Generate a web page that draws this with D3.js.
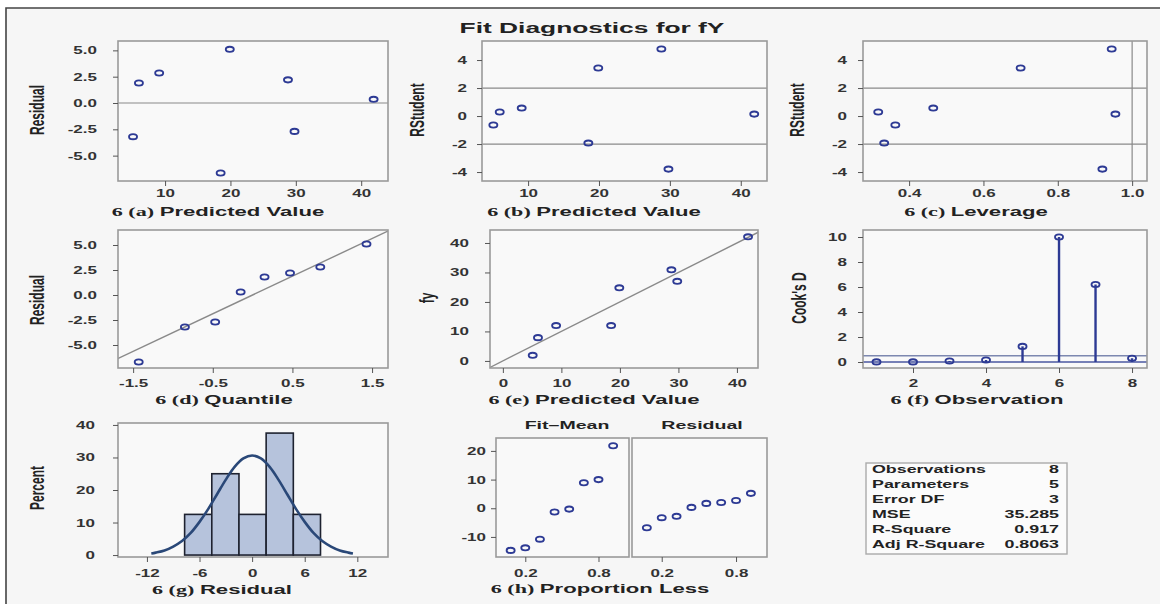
<!DOCTYPE html>
<html>
<head>
<meta charset="utf-8">
<script src="https://cdn.jsdelivr.net/npm/d3@7"></script>
<style>
body { margin: 0; background: #fff; }
svg text { font-family: Arial, "Liberation Sans", sans-serif; fill: #222; }
</style>
</head>
<body>
<svg id="chart" width="1160" height="604"></svg>
<script>
// values, observation order
var obs = [1, 2, 3, 4, 5, 6, 7, 8];
var predicted = [5.1, 6.0, 9.1, 18.5, 19.9, 28.8, 29.8, 41.9];
var residual = [-3.2, 1.9, 2.85, -6.65, 5.1, 2.2, -2.7, 0.35];
var fy = [1.9, 7.9, 12.0, 12.0, 24.8, 30.9, 27.0, 42.1];
var rstudent = [-0.64, 0.29, 0.57, -1.93, 3.43, 4.79, -3.79, 0.14];
var leverage = [0.363, 0.317, 0.465, 0.333, 0.70, 0.945, 0.92, 0.955];
var cooksD = [0.01, 0.01, 0.08, 0.16, 1.25, 10.0, 6.2, 0.3];

// QQ plot
var quantile = [-1.43, -0.85, -0.47, -0.15, 0.15, 0.47, 0.85, 1.43];
var sortedResid = [-6.7, -3.2, -2.7, 0.3, 1.8, 2.2, 2.8, 5.1];
var qqIntercept = 0, qqSlope = 3.76;

// histogram of residuals
var binEdges = [-7.7, -4.6, -1.5, 1.6, 4.7, 7.8];
var binPercent = [12.5, 25, 12.5, 37.5, 12.5];
var curveX = [-11.5, -11, -10, -9, -8, -7, -6, -5, -4, -3, -2, -1, 0, 1, 2, 3, 4, 5, 6, 7, 8, 9, 10, 11, 11.5];
var curveY = [0.5, 0.75, 1.4, 2.6, 4.3, 6.8, 10.2, 14.2, 18.7, 23.2, 27.1, 29.7, 30.6, 29.7, 27.1, 23.2, 18.7, 14.2, 10.2, 6.8, 4.3, 2.6, 1.4, 0.75, 0.5];

// residual-fit spread
var propLess = [0.08, 0.2, 0.32, 0.44, 0.56, 0.68, 0.8, 0.92];
var fitMean = [-14.7, -13.8, -10.8, -1.3, -0.3, 8.9, 10.0, 21.8];
var spreadResid = [-6.8, -3.3, -2.8, 0.3, 1.7, 2.0, 2.7, 5.2];

var statLabels = ["Observations", "Parameters", "Error DF", "MSE", "R-Square", "Adj R-Square"];
var statValues = ["8", "5", "3", "35.285", "0.917", "0.8063"];

var svg = d3.select("#chart");
var SX = 1.7;            // the source picture is stretched sideways
var blue = "#2d3a94";
var loc = d3.formatLocale({ decimal: ".", thousands: ",", grouping: [3], currency: ["", ""], minus: "-" });
var f0 = loc.format(""), f1 = loc.format(".1f");

svg.append("rect").attr("x", 6).attr("y", 8).attr("width", 1154).attr("height", 596).attr("fill", "#f6f6f6");
svg.append("path").attr("d", "M6,604V8H1160").attr("fill", "none").attr("stroke", "#444").attr("stroke-width", 1.6);

function wideText(parent, x, y, str, size, weight, anchor) {
  return parent.append("text")
    .attr("transform", "translate(" + x + "," + y + ") scale(" + SX + ",1)")
    .attr("text-anchor", anchor || "middle")
    .style("font-size", size + "px")
    .style("font-weight", weight || "bold")
    .text(str);
}

function axisTitle(cx, y, tag, label) {
  var t = wideText(svg, cx, y, "", 13);
  t.append("tspan").style("font-family", "'Liberation Serif', serif").text("6 (" + tag + ") ");
  t.append("tspan").text(label);
}

function yTitle(cx, cy, str) {
  svg.append("text")
    .attr("transform", "translate(" + cx + "," + cy + ") rotate(-90) scale(1," + SX + ")")
    .attr("text-anchor", "middle")
    .attr("dy", "0.35em")
    .style("font-size", "12px")
    .style("font-family", "'Liberation Sans Narrow', Arial, sans-serif")
    .style("font-weight", "bold")
    .text(str);
}

var clipCount = 0;
function panel(p) {
  var x = d3.scaleLinear().domain(p.xDomain).range([p.left, p.right]);
  var y = d3.scaleLinear().domain(p.yDomain).range([p.bottom, p.top]);
  var g = svg.append("g");
  g.append("rect").attr("x", p.left).attr("y", p.top)
    .attr("width", p.right - p.left).attr("height", p.bottom - p.top).attr("fill", "#f9f9f9");
  var id = "clip" + (clipCount++);
  g.append("clipPath").attr("id", id).append("rect")
    .attr("x", p.left).attr("y", p.top).attr("width", p.right - p.left).attr("height", p.bottom - p.top);
  var inner = g.append("g").attr("clip-path", "url(#" + id + ")");
  g.append("rect").attr("x", p.left).attr("y", p.top)
    .attr("width", p.right - p.left).attr("height", p.bottom - p.top)
    .attr("fill", "none").attr("stroke", "#9a9a9a").attr("stroke-width", 1.6);

  var xa = g.append("g").attr("transform", "translate(0," + p.bottom + ")")
    .call(d3.axisBottom(x).tickValues(p.xTicks).tickSize(5).tickFormat(p.xFormat || f0));
  xa.select(".domain").remove();
  xa.attr("color", "#555");
  xa.selectAll("text").attr("y", 0).attr("dy", 0)
    .attr("transform", "translate(0," + p.xLabelY + ") scale(" + SX + ",1)")
    .style("font-size", "10px").style("font-weight", "bold").style("fill", "#333");

  if (p.yTicks) {
    var ya = g.append("g").attr("transform", "translate(" + p.left + ",0)")
      .call(d3.axisLeft(y).tickValues(p.yTicks).tickSize(5).tickFormat(p.yFormat || f0));
    ya.select(".domain").remove();
    ya.attr("color", "#555");
    ya.selectAll("text").attr("x", 0).attr("dy", "0.35em")
      .attr("transform", "translate(" + (-p.yGap) + ",0) scale(" + SX + ",1)")
      .style("font-size", "10px").style("font-weight", "bold").style("fill", "#333");
  }
  return { x: x, y: y, g: inner };
}

function hline(pn, v, color, w) {
  pn.g.append("line").attr("x1", pn.x.range()[0]).attr("x2", pn.x.range()[1])
    .attr("y1", pn.y(v)).attr("y2", pn.y(v)).attr("stroke", color || "#8a8a8a").attr("stroke-width", w || 1.2);
}

function markers(pn, xs, ys) {
  pn.g.selectAll(null).data(xs).enter().append("ellipse")
    .attr("cx", function(d) { return pn.x(d); })
    .attr("cy", function(d, i) { return pn.y(ys[i]); })
    .attr("rx", 4).attr("ry", 2.6)
    .attr("fill", "none").attr("stroke", blue).attr("stroke-width", 1.9);
}

// title
wideText(svg, 592, 33, "Fit Diagnostics for fY", 15.5);

// (a) residual by predicted
var pa = panel({ left: 118, right: 388, top: 41, bottom: 181, xDomain: [2.8, 44.1], yDomain: [-7.41, 5.89],
  xTicks: [10, 20, 30, 40], yTicks: [5, 2.5, 0, -2.5, -5], yFormat: f1, xLabelY: 16, yGap: 21 });
hline(pa, 0);
markers(pa, predicted, residual);
yTitle(37, 110, "Residual");
axisTitle(218, 216, "a", "Predicted Value");

// (b) rstudent by predicted
var pb = panel({ left: 482, right: 767, top: 41, bottom: 181, xDomain: [3.5, 43.7], yDomain: [-4.64, 5.36],
  xTicks: [10, 20, 30, 40], yTicks: [4, 2, 0, -2, -4], xLabelY: 16, yGap: 15 });
hline(pb, 2); hline(pb, -2);
markers(pb, predicted, rstudent);
yTitle(417, 110, "RStudent");
axisTitle(594, 216, "b", "Predicted Value");

// (c) rstudent by leverage
var pc = panel({ left: 863, right: 1147, top: 41, bottom: 181, xDomain: [0.276, 1.04], yDomain: [-4.64, 5.36],
  xTicks: [0.4, 0.6, 0.8, 1.0], xFormat: f1, yTicks: [4, 2, 0, -2, -4], xLabelY: 16, yGap: 16 });
hline(pc, 2); hline(pc, -2);
pc.g.append("line").attr("x1", pc.x(1.0)).attr("x2", pc.x(1.0)).attr("y1", 41).attr("y2", 181)
  .attr("stroke", "#8a8a8a").attr("stroke-width", 1.2);
markers(pc, leverage, rstudent);
yTitle(797, 110, "RStudent");
axisTitle(976, 216, "c", "Leverage");

// (d) QQ plot
var pd = panel({ left: 118, right: 388, top: 230, bottom: 368, xDomain: [-1.69, 1.70], yDomain: [-7.3, 6.5],
  xTicks: [-1.5, -0.5, 0.5, 1.5], xFormat: f1, yTicks: [5, 2.5, 0, -2.5, -5], yFormat: f1, xLabelY: 19, yGap: 21 });
pd.g.append("line")
  .attr("x1", pd.x(-2)).attr("y1", pd.y(qqIntercept + qqSlope * -2))
  .attr("x2", pd.x(2)).attr("y2", pd.y(qqIntercept + qqSlope * 2))
  .attr("stroke", "#8a8a8a").attr("stroke-width", 1.4);
markers(pd, quantile, sortedResid);
yTitle(37, 300, "Residual");
axisTitle(224, 404, "d", "Quantile");

// (e) fy by predicted
var pe = panel({ left: 490, right: 758, top: 230, bottom: 368, xDomain: [-2.2, 43.6], yDomain: [-2.4, 44.4],
  xTicks: [0, 10, 20, 30, 40], yTicks: [0, 10, 20, 30, 40], xLabelY: 19, yGap: 21 });
pe.g.append("line").attr("x1", pe.x(-5)).attr("y1", pe.y(-5)).attr("x2", pe.x(50)).attr("y2", pe.y(50))
  .attr("stroke", "#8a8a8a").attr("stroke-width", 1.4);
markers(pe, predicted, fy);
yTitle(427, 298, "fy");
axisTitle(594, 404, "e", "Predicted Value");

// (f) Cook's D
var pf = panel({ left: 863, right: 1147, top: 230, bottom: 368, xDomain: [0.63, 8.41], yDomain: [-0.48, 10.56],
  xTicks: [2, 4, 6, 8], yTicks: [0, 2, 4, 6, 8, 10], xLabelY: 19, yGap: 16 });
hline(pf, 0.5, "#7d88b0", 1.3);
hline(pf, 0, "#4a57a0", 1.6);
pf.g.selectAll(null).data(obs).enter().append("line")
  .attr("x1", function(d) { return pf.x(d); }).attr("x2", function(d) { return pf.x(d); })
  .attr("y1", pf.y(0)).attr("y2", function(d, i) { return pf.y(cooksD[i]); })
  .attr("stroke", blue).attr("stroke-width", 2.4);
markers(pf, obs, cooksD);
yTitle(799, 298, "Cook's D");
axisTitle(977, 404, "f", "Observation");

// (g) histogram of residuals
var pg = panel({ left: 118, right: 388, top: 423, bottom: 557, xDomain: [-15.3, 15.5], yDomain: [-0.6, 40.6],
  xTicks: [-12, -6, 0, 6, 12], yTicks: [0, 10, 20, 30, 40], xLabelY: 20, yGap: 23 });
pg.g.selectAll(null).data(binPercent).enter().append("rect")
  .attr("x", function(d, i) { return pg.x(binEdges[i]); })
  .attr("width", function(d, i) { return pg.x(binEdges[i + 1]) - pg.x(binEdges[i]); })
  .attr("y", function(d) { return pg.y(d); })
  .attr("height", function(d) { return pg.y(0) - pg.y(d); })
  .attr("fill", "#b6c3dc").attr("stroke", "#1e2230").attr("stroke-width", 1.6);
pg.g.append("path")
  .datum(curveX)
  .attr("d", d3.line().curve(d3.curveCatmullRom)
    .x(function(d) { return pg.x(d); })
    .y(function(d, i) { return pg.y(curveY[i]); }))
  .attr("fill", "none").attr("stroke", "#2a4878").attr("stroke-width", 2.6);
yTitle(37, 488, "Percent");
axisTitle(222, 594, "g", "Residual");

// (h) residual-fit spread
var ph1 = panel({ left: 496, right: 629, top: 438, bottom: 557, xDomain: [-0.04, 1.05], yDomain: [-17.0, 24.5],
  xTicks: [0.2, 0.8], xFormat: f1, yTicks: [-10, 0, 10, 20], xLabelY: 20, yGap: 10 });
markers(ph1, propLess, fitMean);
var ph2 = panel({ left: 632, right: 767, top: 438, bottom: 557, xDomain: [-0.04, 1.05], yDomain: [-17.0, 24.5],
  xTicks: [0.2, 0.8], xFormat: f1, xLabelY: 20 });
markers(ph2, propLess, spreadResid);
wideText(svg, 567, 429, "Fit\u2013Mean", 11.5, "bold");
wideText(svg, 702, 429, "Residual", 11.5, "bold");
axisTitle(600, 593, "h", "Proportion Less");

// fit statistics box
svg.append("rect").attr("x", 866).attr("y", 463).attr("width", 201).attr("height", 91)
  .attr("fill", "#fbfbfb").attr("stroke", "#aaa").attr("stroke-width", 1.4);
statLabels.forEach(function(s, i) {
  wideText(svg, 872, 473 + i * 15, s, 10.5, "bold", "start");
  wideText(svg, 1059, 473 + i * 15, statValues[i], 10.5, "bold", "end");
});
</script>
</body>
</html>
